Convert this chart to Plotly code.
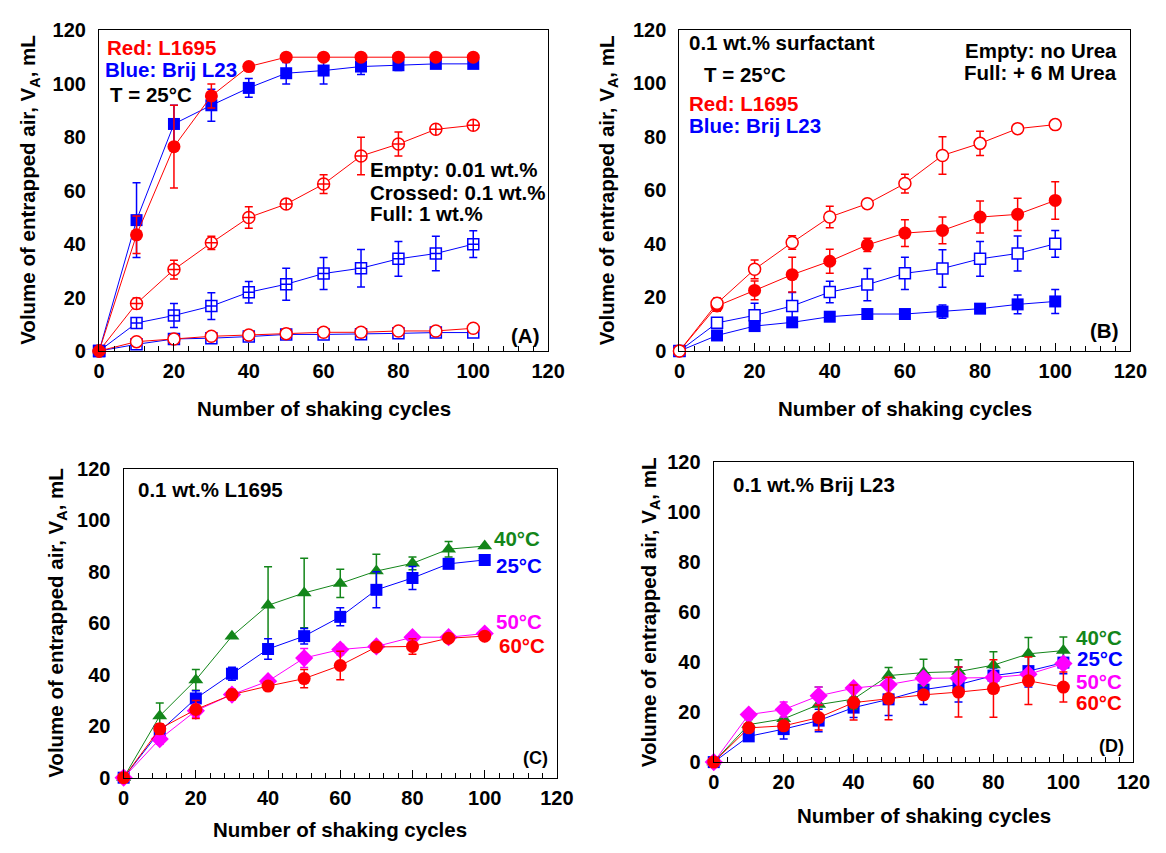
import plotly.graph_objects as go

W, H = 1166, 853

cycles = [0, 10, 20, 30, 40, 50, 60, 70, 80, 90, 100]
x_ticks = [0, 20, 40, 60, 80, 100, 120]
y_ticks = [0, 20, 40, 60, 80, 100, 120]

# ---- Panel A (T = 25 C) ----
a_red_full = [0, 43.5, 76.5, 95.5, 106.5, 110, 110, 110, 110, 110, 110]
a_red_full_err = [0, 7, 15.5, 4.5, 0.5, 0, 0, 0, 0, 0, 0]
a_blue_full = [0, 49, 85, 92, 98.5, 104, 105, 106.5, 107, 107.5, 107.5]
a_blue_full_err = [0, 14, 7, 6, 3.5, 4, 5, 3, 2, 1.5, 1.5]
a_red_cross = [0, 17.8, 30.5, 40.5, 50, 55, 62.5, 73, 77.5, 83, 84.5]
a_red_cross_err = [0, 2, 3.5, 2.5, 4, 0.5, 3.5, 7, 4.5, 0.5, 1]
a_blue_cross = [0, 10.5, 13.3, 16.8, 22, 25, 29, 31, 34.5, 36.5, 40]
a_blue_cross_err = [0, 1, 4.5, 5, 4, 6, 6, 7, 6.5, 6.5, 5]
a_red_empty = [0, 3.5, 4.5, 5.5, 6, 6.5, 7, 7, 7.5, 7.5, 8.5]
a_blue_empty = [0, 2.5, 4.5, 4.8, 5.4, 6.2, 6.2, 6.3, 6.6, 6.9, 6.9]

# ---- Panel B (0.1 wt.%, urea) ----
b_red_empty = [0, 17.8, 30.5, 40.5, 50, 55, 62.5, 73, 77.5, 83, 84.5]
b_red_empty_err = [0, 2, 3.5, 2.5, 4, 0.5, 3.5, 7, 4.5, 0.5, 1]
b_red_full = [0, 16.8, 22.6, 28.5, 33.5, 39.6, 44, 45, 50, 51, 56.2]
b_red_full_err = [0, 2, 3.5, 6.5, 4.5, 2.5, 5, 5, 6, 6, 7]
b_blue_empty = [0, 10.5, 13.3, 16.8, 22, 24.8, 29, 30.8, 34.4, 36.4, 40]
b_blue_empty_err = [0, 1, 4.5, 5, 4, 6, 6, 7, 6.5, 6.5, 5]
b_blue_full = [0, 5.8, 9.3, 10.7, 12.8, 13.8, 13.8, 14.7, 15.8, 17.4, 18.5]
b_blue_full_err = [0, 1, 1, 1.5, 1, 0.5, 0.5, 2.5, 0.5, 3.5, 4.5]

# ---- Panel C (0.1 wt.% L1695, temperatures) ----
c_40 = [0, 24, 38, 55, 67, 71.8, 75.5, 80.3, 83.3, 88.8, 90]
c_40_err = [0, 5, 4, 0, 15, 13.5, 5.5, 6.5, 2.5, 3, 0]
c_25 = [0, 18, 30.8, 40.4, 50, 55, 62.5, 73, 77.6, 83.1, 84.6]
c_25_err = [0, 2, 3, 2.5, 4, 3, 3.5, 7, 4.5, 0.5, 0.5]
c_50 = [0, 15, 26, 32.3, 37.5, 46.5, 49.8, 51, 54.6, 54.6, 56]
c_50_err = [0, 2, 2.5, 2, 1, 3.7, 2, 1, 1.5, 1, 0.5]
c_60 = [0, 19, 26.5, 32.3, 35.6, 38.5, 43.6, 50.8, 51, 54.2, 55]
c_60_err = [0, 2, 3.5, 2, 0.5, 3.5, 5.5, 1, 3, 0.5, 0.5]

# ---- Panel D (0.1 wt.% Brij L23, temperatures) ----
d_40 = [0, 15, 17.3, 23, 25.2, 34.6, 35.8, 36.2, 38.8, 43.3, 44.6]
d_40_err = [0, 2, 2.5, 7, 4, 3.2, 5.3, 4.7, 5.3, 6.5, 5.4]
d_25 = [0, 10.3, 13.2, 16.6, 21.8, 25.1, 29, 31, 34.6, 36.4, 39.8]
d_25_err = [0, 1, 4, 4.5, 4, 6.5, 6, 7, 3, 6.4, 4.5]
d_50 = [0, 19, 21, 26.5, 29.6, 31, 33.5, 33.5, 33.8, 35.1, 39.4]
d_50_err = [0, 1, 3, 3.5, 1.5, 1, 1, 1, 1, 1, 1]
d_60 = [0, 13.7, 14.5, 17.8, 23.8, 25.4, 26.9, 28, 29.4, 32.5, 30]
d_60_err = [0, 1.5, 1.5, 5, 7, 8.5, 1.5, 10, 11.5, 9.5, 6]

RED = "#ff0000"
BLUE = "#0000ff"
GREEN = "#13861a"
MAGENTA = "#ff00ff"
FONT = "Liberation Sans, Arial, sans-serif"
TXT = 20.5

fig = go.Figure()


def add(ax, y, err, color, symbol, size, fill=None):
    sfx = "" if ax == 1 else str(ax)
    fig.add_trace(go.Scatter(
        x=cycles, y=y, mode="lines+markers",
        xaxis="x" + sfx, yaxis="y" + sfx,
        line=dict(color=color, width=1),
        marker=dict(symbol=symbol, size=size,
                    color=fill if fill else color,
                    line=dict(color=color, width=1.5 if fill else 0)),
        error_y=dict(type="data", array=err, visible=err is not None,
                     color=color, thickness=1.5, width=4),
        cliponaxis=False, showlegend=False, hoverinfo="skip"))


zeros = None
# A
add(1, a_blue_empty, zeros, BLUE, "square", 11, "white")
add(1, a_red_empty, zeros, RED, "circle", 12, "white")
add(1, a_blue_cross, a_blue_cross_err, BLUE, "square-cross", 11, "white")
add(1, a_red_cross, a_red_cross_err, RED, "circle-cross", 12, "white")
add(1, a_blue_full, a_blue_full_err, BLUE, "square", 12)
add(1, a_red_full, a_red_full_err, RED, "circle", 13)
# B
add(2, b_blue_full, b_blue_full_err, BLUE, "square", 12)
add(2, b_blue_empty, b_blue_empty_err, BLUE, "square", 11, "white")
add(2, b_red_full, b_red_full_err, RED, "circle", 13)
add(2, b_red_empty, b_red_empty_err, RED, "circle", 12, "white")
# C
add(3, c_40, c_40_err, GREEN, "triangle-up", 13)
add(3, c_25, c_25_err, BLUE, "square", 12)
add(3, c_50, c_50_err, MAGENTA, "diamond", 14)
add(3, c_60, c_60_err, RED, "circle", 13)
# D
add(4, d_25, d_25_err, BLUE, "square", 12)
add(4, d_40, d_40_err, GREEN, "triangle-up", 13)
add(4, d_50, d_50_err, MAGENTA, "diamond", 14)
add(4, d_60, d_60_err, RED, "circle", 13)

# panel boxes in pixels: left, top, right, bottom
boxes = {
    1: (95, 20, 553, 349),
    2: (687, 19, 1147, 349),
    3: (120, 470, 562, 787),
    4: (722, 463, 1150, 771),
}

def px(x, y):
    return x / W, 1 - y / H

layout = dict(width=W, height=H, margin=dict(l=0, r=0, t=0, b=0),
              plot_bgcolor="white", paper_bgcolor="white",
              font=dict(family=FONT, color="black"))

for i, (l, t, r, b) in boxes.items():
    sfx = "" if i == 1 else str(i)
    layout["xaxis" + sfx] = dict(
        domain=[l / W, r / W], anchor="y" + sfx, range=[0, 120],
        tickvals=x_ticks, ticks="inside", ticklen=8, tickwidth=1, tickcolor="black",
        minor=dict(dtick=4, tick0=0, ticks="inside", ticklen=5, tickwidth=1, tickcolor="black"),
        showline=True, linecolor="black", linewidth=1.3, mirror=True,
        showgrid=False, zeroline=False,
        tickfont=dict(family=FONT, size=20, color="black", weight="bold"),
        ticklabelstandoff=2)
    layout["yaxis" + sfx] = dict(
        domain=[1 - b / H, 1 - t / H], anchor="x" + sfx, range=[0, 120],
        tickvals=y_ticks, ticks="",
        showline=True, linecolor="black", linewidth=1.3, mirror=True,
        showgrid=False, zeroline=False,
        tickfont=dict(family=FONT, size=20, color="black", weight="bold"),
        ticklabelstandoff=8)

fig.update_layout(**layout)

ann = []

def text(x, y, s, color="black", xanchor="left", size=TXT, angle=0):
    xx, yy = px(x, y)
    ann.append(dict(x=xx, y=yy, xref="paper", yref="paper", text=s,
                    showarrow=False, xanchor=xanchor, yanchor="middle",
                    textangle=angle,
                    font=dict(family=FONT, size=size, color=color, weight="bold")))

ytitle = "Volume of entrapped air, V<sub>A</sub>, mL"
xtitle = "Number of shaking cycles"

# axis titles
text(24, 184, ytitle, xanchor="center", angle=-90)
text(614, 184, ytitle, xanchor="center", angle=-90)
text(52, 628, ytitle, xanchor="center", angle=-90)
text(657, 617, ytitle, xanchor="center", angle=-90)
text(324, 408, xtitle, xanchor="center")
text(917, 408, xtitle, xanchor="center")
text(341, 840, xtitle, xanchor="center")
text(936, 826, xtitle, xanchor="center")

# panel A
text(101, 37, "Red: L1695", RED)
text(99, 60, "Blue: Brij L23", BLUE)
text(104, 86, "T = 25°C")
text(369, 163, "Empty: 0.01 wt.%")
text(369, 186, "Crossed: 0.1 wt.%")
text(369, 208, "Full: 1 wt.%")
text(546, 333, "(A)", xanchor="right")

# panel B
text(695, 32, "0.1 wt.% surfactant")
text(710, 65, "T = 25°C")
text(695, 95, "Red: L1695", RED)
text(695, 118, "Blue: Brij L23", BLUE)
text(1135, 41, "Empty: no Urea", xanchor="right")
text(1135, 63, "Full: + 6 M Urea", xanchor="right")
text(1136, 328, "(B)", xanchor="right")

# panel C
text(133, 491, "0.1 wt.% L1695")
text(496, 541, "40°C", GREEN)
text(498, 569, "25°C", BLUE)
text(498, 627, "50°C", MAGENTA)
text(501, 651, "60°C", RED)
text(555, 767, "(C)", xanchor="right", size=18)

# panel D
text(740, 486, "0.1 wt.% Brij L23")
text(1090, 643, "40°C", GREEN)
text(1091, 665, "25°C", BLUE)
text(1090, 688, "50°C", MAGENTA)
text(1090, 710, "60°C", RED)
text(1143, 754, "(D)", xanchor="right", size=18)

fig.update_layout(annotations=ann)
fig.write_html("out.html")
